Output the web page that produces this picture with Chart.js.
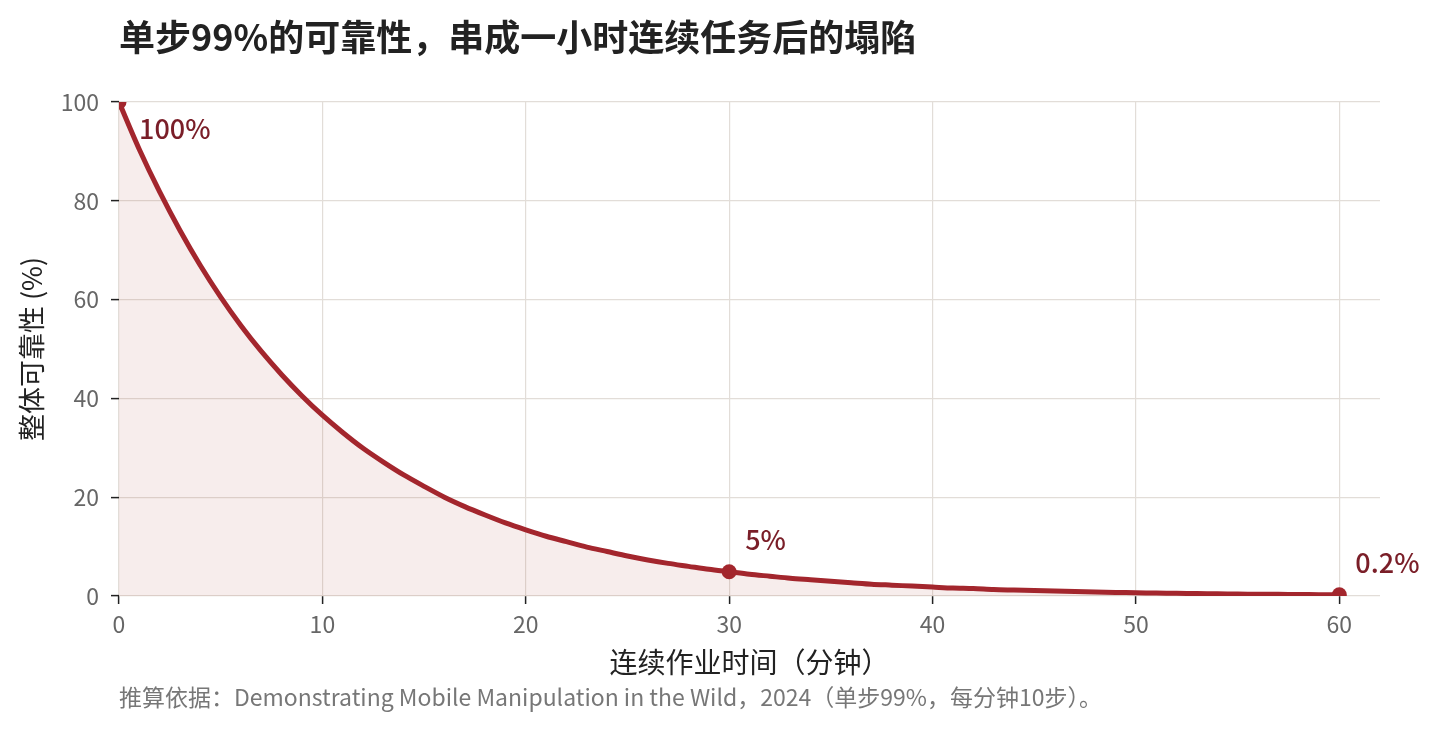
<!DOCTYPE html>
<html lang="zh">
<head>
<meta charset="utf-8">
<title>单步99%的可靠性</title>
<style>
  html, body { margin: 0; padding: 0; background: #fff; }
  .wrap { position: relative; width: 1440px; height: 729px; }
</style>
</head>
<body>
<div class="wrap">
  <canvas id="myChart" width="1440" height="729"></canvas>
</div>

<script src="https://cdn.jsdelivr.net/npm/chart.js"></script>
<script>
// 数据：分钟数与整体可靠性 (%)
const minutes = [0,1,2,3,4,5,6,7,8,9,10,11,12,13,14,15,16,17,18,19,20,
  21,22,23,24,25,26,27,28,29,30,31,32,33,34,35,36,37,38,39,40,
  41,42,43,44,45,46,47,48,49,50,51,52,53,54,55,56,57,58,59,60];
const reliability = [100,90.4,81.8,74.0,66.9,60.5,54.7,49.5,44.8,40.5,36.6,
  33.1,29.9,27.1,24.5,22.2,20.0,18.1,16.4,14.8,13.4,
  12.1,11.0,9.9,9.0,8.1,7.3,6.6,6.0,5.4,4.9,
  4.4,4.0,3.6,3.3,3.0,2.7,2.4,2.2,2.0,1.8,
  1.6,1.5,1.3,1.2,1.1,1.0,0.9,0.8,0.73,0.66,
  0.6,0.54,0.49,0.44,0.4,0.36,0.33,0.29,0.27,0.24];
const markMinutes = [0, 30, 60];
const markValues = [100, 4.9, 0.24];
const markLabels = ['100%', '5%', '0.2%'];
const xTicks = [0, 10, 20, 30, 40, 50, 60];
const yTicks = [0, 20, 40, 60, 80, 100];

const titleText = '单步99%的可靠性，串成一小时连续任务后的塌陷';
const noteText = '推算依据：Demonstrating Mobile Manipulation in the Wild，2024（单步99%，每分钟10步）。';

const FONT = '"Noto Sans CJK SC", "Noto Sans", sans-serif';
const lineColor = 'rgb(163, 38, 45)';
const labelColor = 'rgb(122, 30, 40)';

// 标题、注释和数据标签
const textPlugin = {
  id: 'texts',
  afterDraw(chart) {
    const ctx = chart.ctx;
    const area = chart.chartArea;
    const xs = chart.scales.x, ys = chart.scales.y;
    ctx.save();
    ctx.textBaseline = 'middle';
    ctx.textAlign = 'left';
    ctx.fillStyle = '#222';
    ctx.font = 'bold 36px ' + FONT;
    ctx.fillText(titleText, area.left, 37);

    ctx.fillStyle = '#777';
    ctx.font = '23px ' + FONT;
    ctx.fillText(noteText, area.left, 697);

    ctx.fillStyle = labelColor;
    ctx.font = '500 27px ' + FONT;
    for (let i = 0; i < markMinutes.length; i++) {
      const px = xs.getPixelForValue(markMinutes[i]);
      const py = ys.getPixelForValue(markValues[i]);
      if (i == 0) {
        ctx.fillText(markLabels[i], px + 20, py + 27);
      } else {
        ctx.fillText(markLabels[i], px + 16, py - 32);
      }
    }
    ctx.restore();
  }
};

const ctx = document.getElementById('myChart');

new Chart(ctx, {
  type: 'line',
  data: {
    datasets: [{
      data: minutes.map((m, i) => ({ x: m, y: reliability[i] })),
      borderColor: lineColor,
      borderWidth: 5,
      backgroundColor: 'rgba(160, 50, 40, 0.085)',
      fill: 'origin',
      pointRadius: 0,
      tension: 0.3,
      clip: 0
    }, {
      data: markMinutes.map((m, i) => ({ x: m, y: markValues[i] })),
      showLine: false,
      pointRadius: 7.5,
      pointBackgroundColor: lineColor,
      pointBorderWidth: 0,
      clip: 0
    }]
  },
  options: {
    responsive: false,
    animation: false,
    layout: { padding: { top: 102, right: 60, bottom: 45, left: 0 } },
    plugins: {
      legend: { display: false },
      tooltip: { enabled: false }
    },
    scales: {
      x: {
        type: 'linear',
        min: 0,
        max: 62,
        afterFit(scale) { scale.height = 88; },
        afterBuildTicks(scale) { scale.ticks = xTicks.map(v => ({ value: v })); },
        border: { display: false },
        grid: { color: 'rgb(226, 221, 216)', lineWidth: 1.2, tickColor: '#222', tickLength: 8, tickWidth: 1.5 },
        ticks: { color: '#666', font: { family: FONT, size: 23 }, padding: 6 },
        title: {
          display: true,
          text: '连续作业时间（分钟）',
          color: '#222',
          font: { family: FONT, size: 28 },
          padding: { top: 4, bottom: 5 }
        }
      },
      y: {
        min: 0,
        max: 100,
        afterFit(scale) { scale.width = 119; },
        afterBuildTicks(scale) { scale.ticks = yTicks.map(v => ({ value: v })); },
        border: { display: false },
        grid: { color: 'rgb(226, 221, 216)', lineWidth: 1.2, tickColor: '#222', tickLength: 8, tickWidth: 1.5 },
        ticks: { color: '#666', font: { family: FONT, size: 23 }, padding: 12 },
        title: {
          display: true,
          text: '整体可靠性 (%)',
          color: '#222',
          font: { family: FONT, size: 27 },
          padding: { top: 16, bottom: 0 }
        }
      }
    }
  },
  plugins: [textPlugin]
});
</script>
</body>
</html>
